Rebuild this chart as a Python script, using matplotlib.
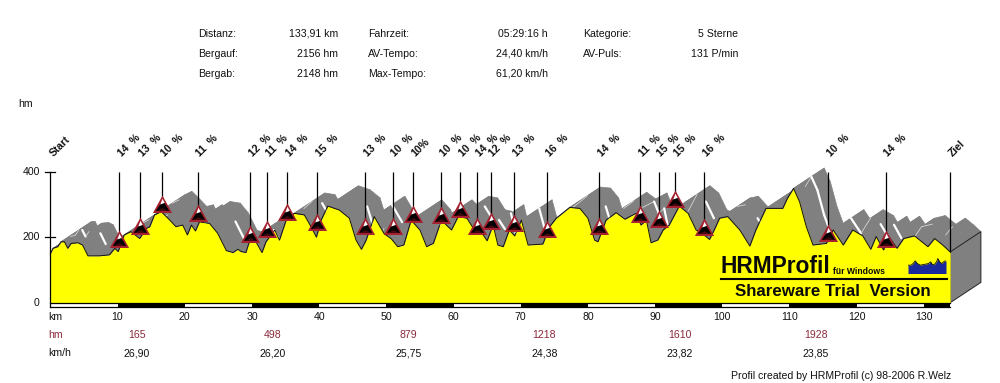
# -*- coding: utf-8 -*-

import numpy as np
import matplotlib
matplotlib.use('agg')
import matplotlib.pyplot as plt
from matplotlib.collections import PolyCollection
from matplotlib.path import Path
from matplotlib.patches import Polygon, Rectangle
from matplotlib.transforms import Affine2D

# Profile
profile_km = [0.0, 0.4, 1.1, 1.6, 2.1, 2.6, 3.1, 4.1, 4.8, 5.6, 7.3, 8.8, 9.6, 10.1, 11.0, 12.0, 13.3, 14.3, 14.8,
              15.5, 16.5, 17.5, 18.7, 19.7, 20.4, 21.0, 21.6, 22.2, 23.7, 24.9, 26.2, 27.2, 27.9, 28.4, 29.1, 29.7,
              30.6, 31.5, 32.1, 33.4, 34.1, 35.1, 36.3, 37.8, 38.8, 39.6, 40.3, 41.3, 43.0, 44.5, 45.5, 46.3, 47.0,
              48.2, 49.7, 50.7, 51.7, 52.6, 53.7, 55.0, 56.0, 57.0, 58.2, 59.7, 60.7, 62.0, 63.1, 64.1, 65.0, 65.9,
              66.6, 67.4, 68.3, 69.1, 70.1, 71.1, 73.3, 74.3, 75.3, 77.3, 78.8, 80.0, 81.0, 81.5, 82.7, 84.2, 85.5,
              87.2, 87.9, 88.7, 89.4, 90.4, 91.2, 92.1, 93.6, 94.9, 96.1, 97.1, 98.1, 98.8, 99.6, 100.8, 102.6,
              104.1, 105.0, 106.5, 109.0, 109.7, 110.6, 111.5, 112.5, 113.5, 115.5, 116.5, 118.0, 119.4, 120.9,
              122.1, 122.9, 124.0, 124.8, 126.0, 127.0, 128.6, 130.6, 131.6, 132.8, 133.91]
profile_hm = [149, 166, 171, 186, 186, 166, 181, 183, 176, 143, 143, 146, 166, 156, 207, 217, 196, 227, 232,
              268, 278, 258, 232, 237, 207, 237, 219, 247, 242, 212, 159, 153, 163, 156, 153, 191,
              186, 153, 186, 222, 191, 252, 273, 268, 232, 200, 252, 295, 283, 258, 191, 163, 191,
              263, 210, 196, 171, 176, 252, 222, 171, 181, 252, 222, 263, 258, 222, 217, 189, 237,
              176, 171, 222, 204, 252, 176, 179, 232, 258, 291, 288, 258, 191, 186, 252, 275, 255,
              273, 237, 252, 183, 191, 222, 237, 295, 273, 222, 210, 193, 222, 258, 263, 222,
              173, 222, 288, 288, 319, 349, 308, 232, 176, 181, 222, 176, 222, 204,
              163, 202, 161, 202, 166, 196, 204, 171, 196, 176, 155]

# Climb markers
climb_km = [10.27, 13.4, 16.67, 22.0, 29.76, 32.3, 35.27, 39.73, 46.9, 51.0, 54.0, 58.2, 61.0, 63.55, 65.6, 69.05,
            73.96, 81.7, 87.8, 90.6, 93.0, 97.3, 115.8, 124.3]
climb_hm = [171, 210, 276, 250, 186, 202, 252, 222, 209, 209, 247, 242, 261, 209, 224, 219, 202, 209, 247, 230,
            293, 207, 188, 171]
climb_labels = ['14  %', '13  %', '10  %', '11  %', '12  %', '11  %', '14  %', '15  %', '13  %', '10  %', '10%',
                '10  %', '10  %', '14  %', '12  %', '13  %', '16  %', '14  %', '11  %', '15  %', '15  %', '16  %',
                '10  %', '14  %']

km_ticks = [10, 20, 30, 40, 50, 60, 70, 80, 90, 100, 110, 120, 130]
hm_ticks = [0, 200, 400]
split_km = [12.86, 33.1, 53.3, 73.5, 93.7, 113.9]
split_hm = ['165', '498', '879', '1218', '1610', '1928']
split_speed = ['26,90', '26,20', '25,75', '24,38', '23,82', '23,85']
total_km = 133.91

stat_names = [['Distanz:', 'Bergauf:', 'Bergab:'], ['Fahrzeit:', 'AV-Tempo:', 'Max-Tempo:'],
              ['Kategorie:', 'AV-Puls:']]
stat_values = [['133,91 km', '2156 hm', '2148 hm'], ['05:29:16 h', '24,40 km/h', '61,20 km/h'],
               ['5 Sterne', '131 P/min']]

logo_x = [0, 3, 5, 7, 9, 12, 15, 17, 20, 22, 24, 26, 28, 29, 31, 33, 35, 37]
logo_y = [25, 25, 30, 38, 30, 25, 27, 28, 30, 35, 26, 28, 36, 45, 34, 30, 36, 38]

# Pixel scale of the reference
PX_KM = 6.72
PX_HM = 0.3275
X0 = 50.3
Y0 = 302.7
SHIFT_KM = 4.57
SHIFT_HM = 62
STRIPE = 0.58
RED = '#8a2a3a'
GRAY = '#808080'
YELLOW = '#ffff00'
FONT = 'Liberation Sans'
TXT = 7.6

plt.rcParams['font.family'] = FONT

fig = plt.figure(figsize=(10, 3.83), dpi=100)
ax = fig.add_axes([0, 0, 1, 1])
ax.set_xlim(-X0 / PX_KM, (1000 - X0) / PX_KM)
ax.set_ylim((Y0 - 383) / PX_HM, Y0 / PX_HM)
ax.axis('off')

# text and layout placed in image pixels, y going down
px = Affine2D().scale(1, -1).translate(0, 383)


def put(x, y, s, size=TXT, ha='left', color='#111111', **kw):
    ax.text(x, y, s, transform=px, fontsize=size, ha=ha, va='center', color=color, **kw)


km = np.array(profile_km)
hm = np.array(profile_hm)

# the 3d ribbon behind the profile
quads = []
for i in range(len(km) - 1):
    quads.append([(km[i], hm[i]), (km[i + 1], hm[i + 1]),
                  (km[i + 1] + SHIFT_KM, hm[i + 1] + SHIFT_HM), (km[i] + SHIFT_KM, hm[i] + SHIFT_HM)])
ax.add_collection(PolyCollection(quads, facecolors=GRAY, edgecolors=GRAY, linewidths=0.5, zorder=1))

for i in range(len(km) - 1):
    slope = (hm[i + 1] - hm[i]) / (km[i + 1] - km[i])
    xs = km[i:i + 2] + SHIFT_KM * STRIPE
    ys = hm[i:i + 2] + SHIFT_HM * STRIPE
    if slope < -30:
        ax.plot(xs, ys, color='white', lw=1.6, solid_capstyle='round', zorder=2)
    elif 4 < slope < 40:
        ax.plot(xs, ys, color='#d5d5d5', lw=0.6, zorder=2)

# end face
end_hm = hm[-1]
ax.add_patch(Polygon([(total_km, 0), (total_km, end_hm), (total_km + SHIFT_KM, end_hm + SHIFT_HM),
                      (total_km + SHIFT_KM, SHIFT_HM)], closed=True, facecolor=GRAY, edgecolor='#222222',
                     lw=0.7, zorder=2))

ax.fill_between(km, 0, hm, color=YELLOW, lw=0, zorder=3)
ax.plot(km, hm, color='#111111', lw=0.7, zorder=4)

# km bar
bar_edges = [0] + km_ticks + [total_km]
for i in range(len(bar_edges) - 1):
    color = 'black' if i % 2 == 1 else 'white'
    ax.add_patch(Rectangle((bar_edges[i], -4 / PX_HM), bar_edges[i + 1] - bar_edges[i], 4 / PX_HM,
                           facecolor=color, edgecolor='none', zorder=5))
ax.plot([0, total_km], [0, 0], color='black', lw=0.9, zorder=6)
ax.plot([0, total_km], [-4 / PX_HM, -4 / PX_HM], color='black', lw=0.9, zorder=6)

# hm axis
ax.plot([0, 0], [-4 / PX_HM, 400], color='black', lw=0.9, zorder=6)
for t in hm_ticks:
    if t > 0:
        ax.plot([-5 / PX_KM, 5 / PX_KM], [t, t], color='black', lw=0.9, zorder=6)
    ax.text(-10.5 / PX_KM, t, str(t), fontsize=TXT, ha='right', va='center', color='#111111')
put(18, 104, 'hm')

# climbs
ax.vlines(climb_km, climb_hm, 400, color='black', lw=0.9, zorder=7)
ax.vlines(total_km, end_hm, 400, color='black', lw=0.9, zorder=7)


def tri_layer(verts, color):
    verts = np.array(verts, dtype=float)
    ms = 23 * np.abs(verts).max()
    ax.plot(climb_km, climb_hm, ls='', marker=Path(verts), ms=ms, mfc=color, mew=0, zorder=8)


tri_layer([(-.6, -.03), (.6, -.03), (0, 1.06)], '#a5202f')
tri_layer([(-.42, .1), (.42, .1), (0.03, .76)], '#000000')
tri_layer([(-.14, .5), (0, .86), (.14, .6)], '#ffffff')
tri_layer([(-.34, .1), (.34, .1), (0, .27)], '#4a0710')

for x, s in zip(climb_km, climb_labels):
    ax.text(x + 0.35, 445, s, fontsize=TXT, fontweight='bold', rotation=45, rotation_mode='anchor',
            ha='left', va='baseline', color='#111111', zorder=9)
ax.text(0.45, 445, 'Start', fontsize=TXT, fontweight='bold', rotation=45, rotation_mode='anchor',
        ha='left', va='baseline', color='#111111')
ax.text(total_km + 0.4, 445, 'Ziel', fontsize=TXT, fontweight='bold', rotation=45, rotation_mode='anchor',
        ha='left', va='baseline', color='#111111')

# bottom rows
put(48, 317, 'km')
put(48, 335, 'hm', color=RED)
put(48, 353, 'km/h')
for t in km_ticks:
    ax.text(t, (Y0 - 317) / PX_HM, str(t), fontsize=TXT, ha='center', va='center', color='#111111')
for x, a, b in zip(split_km, split_hm, split_speed):
    ax.text(x, (Y0 - 334.5) / PX_HM, a, fontsize=TXT, ha='center', va='center', color=RED)
    ax.text(x, (Y0 - 353) / PX_HM, b, fontsize=TXT, ha='center', va='center', color='#111111')
put(951, 376, 'Profil created by HRMProfil (c) 98-2006 R.Welz', ha='right')

# stats block
name_x = [198, 368, 583]
value_x = [338, 548, 738]
row_y = [34, 54, 74]
for c in range(3):
    for r in range(len(stat_names[c])):
        put(name_x[c], row_y[r], stat_names[c][r])
        put(value_x[c], row_y[r], stat_values[c][r], ha='right')

# logo
put(720, 266.5, 'HRMProfil', size=16.4, fontweight='bold', color='#0a0a0a', zorder=9)
put(833, 271.5, 'für Windows', size=6.2, fontweight='bold', color='#0a0a0a', zorder=9)
put(735, 292, 'Shareware Trial  Version', size=12.2, fontweight='bold', color='#0a0a0a', zorder=9)
ax.plot([720, 947], [277.6, 277.6], transform=px, color='black', lw=0.8, zorder=9)
ax.plot([720, 947], [279.4, 279.4], transform=px, color='black', lw=0.8, zorder=9)

inset = fig.add_axes([908 / 1000, 1 - 273.5 / 383, 38 / 1000, 16 / 383])
inset.fill_between(logo_x, 0, logo_y, color='#1a2a9c', lw=0)
inset.plot(logo_x, logo_y, color='#101010', lw=0.6)
inset.set_xlim(0, 37)
inset.set_ylim(0, 48)
inset.axis('off')

fig.savefig('out.png', dpi=100)
